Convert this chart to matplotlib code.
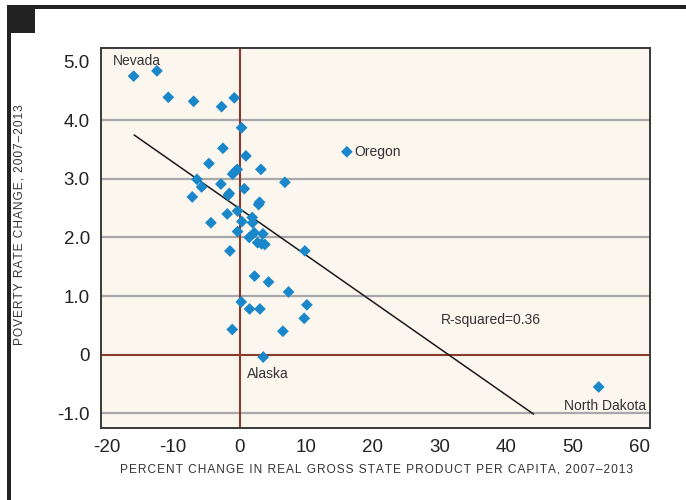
import matplotlib
matplotlib.use("Agg")
import matplotlib.pyplot as plt
from matplotlib.patches import Rectangle

plt.rcParams['font.family'] = ['Liberation Sans', 'DejaVu Sans']

# Data (percent change in real GSP per capita, poverty rate change)
gsp_change = [-15.9, -12.4, -10.7, -6.9, -2.7, -0.8, 0.3, -2.5, 0.95, -4.6,
              3.2, -1.05, -0.7, -0.35, 6.8, -6.4, -5.7, -2.8, 0.7, -1.55,
              -1.7, -7.1, 3.0, 2.85, -0.3, -1.85, -4.3, 0.35, 1.9, 1.95,
              -0.3, 2.2, 3.5, 1.45, 2.7, 3.3, 3.8, 9.8, -1.45, 2.25,
              4.35, 7.35, 0.25, 1.5, 3.05, 10.1, 9.7, -1.1, 6.5, 3.55,
              16.1, 53.9]
poverty_change = [4.75, 4.84, 4.39, 4.32, 4.23, 4.38, 3.87, 3.52, 3.39, 3.26,
                  3.16, 3.08, 3.12, 3.16, 2.94, 2.99, 2.86, 2.91, 2.83, 2.75,
                  2.72, 2.69, 2.60, 2.56, 2.45, 2.40, 2.25, 2.27, 2.34, 2.25,
                  2.10, 2.08, 2.06, 2.00, 1.91, 1.89, 1.88, 1.77, 1.77, 1.34,
                  1.24, 1.07, 0.90, 0.78, 0.78, 0.85, 0.62, 0.43, 0.40, -0.04,
                  3.46, -0.55]

# Fitted line
fit_intercept = 2.49
fit_slope = -0.0794
fit_x = [-15.8, 44.1]

labels = ["Nevada", "Oregon", "Alaska", "North Dakota", "R-squared=0.36"]
label_x = [-15.4, 17.3, 1.1, 48.7, 30.2]
label_y = [5.01, 3.46, -0.33, -0.88, 0.59]
label_ha = ["center", "left", "left", "left", "left"]

x_ticks = [-20, -10, 0, 10, 20, 30, 40, 50, 60]
y_ticks = [-1, 0, 1, 2, 3, 4, 5]
y_ticklabels = ["-1.0", "0", "1.0", "2.0", "3.0", "4.0", "5.0"]

x_title = "PERCENT CHANGE IN REAL GROSS STATE PRODUCT PER CAPITA, 2007\u20132013"
y_title = "POVERTY RATE CHANGE, 2007\u20132013"


def spaced(s):
    return "\u200a".join(s)


W, H = 686, 500
fig = plt.figure(figsize=(W / 100, H / 100), dpi=100)
fig.patch.set_facecolor("white")

ax = fig.add_axes([101 / W, 1 - 428 / H, (650 - 101) / W, (428 - 48) / H])
ax.set_facecolor("#FBF6EE")
ax.set_xlim(-20.8, 61.6)
ax.set_ylim(-1.25, 5.23)

for sp in ax.spines.values():
    sp.set_color("#3a3a3a")
    sp.set_linewidth(1.4)

for yv in y_ticks:
    if yv == 0:
        ax.axhline(0, color="#8B3A2E", lw=1.5, zorder=1)
    elif yv < 5:
        ax.axhline(yv, color="#A8A8A8", lw=1.6, zorder=1)
ax.axvline(0, color="#8B3A2E", lw=1.5, zorder=1)

fy = [fit_intercept + fit_slope * v for v in fit_x]
ax.plot(fit_x, fy, color="#1a1a1a", lw=1.1, zorder=2)

ax.scatter(gsp_change, poverty_change, marker="D", s=36, color="#1A87CA",
           edgecolors="none", zorder=3)

for t, xv, yv, ha in zip(labels, label_x, label_y, label_ha):
    ax.text(xv, yv, t, ha=ha, va="center", fontsize=10, color="#333333")

ax.set_xticks(x_ticks)
ax.set_xticklabels([str(v) for v in x_ticks])
ax.set_yticks(y_ticks)
ax.set_yticklabels(y_ticklabels)
ax.tick_params(length=0, labelsize=13.5, colors="#222222")
ax.tick_params(axis="x", pad=8)
ax.tick_params(axis="y", pad=8)

fig.text(377 / W, 1 - 470 / H, spaced(x_title),
         ha="center", va="center", fontsize=8.6, color="#333333")
fig.text(20 / W, 1 - 225 / H, spaced(y_title),
         ha="center", va="center", rotation=90, fontsize=8.6, color="#333333")

fig.add_artist(Rectangle((7 / W, 1 - 9 / H), 1 - 7 / W, 4 / H, transform=fig.transFigure,
                         color="#222222", lw=0))
fig.add_artist(Rectangle((7 / W, 0), 4 / W, 1 - 5 / H, transform=fig.transFigure,
                         color="#222222", lw=0))
fig.add_artist(Rectangle((7 / W, 1 - 33 / H), 28 / W, 28 / H, transform=fig.transFigure,
                         color="#222222", lw=0))

fig.savefig("out.png", dpi=100)
